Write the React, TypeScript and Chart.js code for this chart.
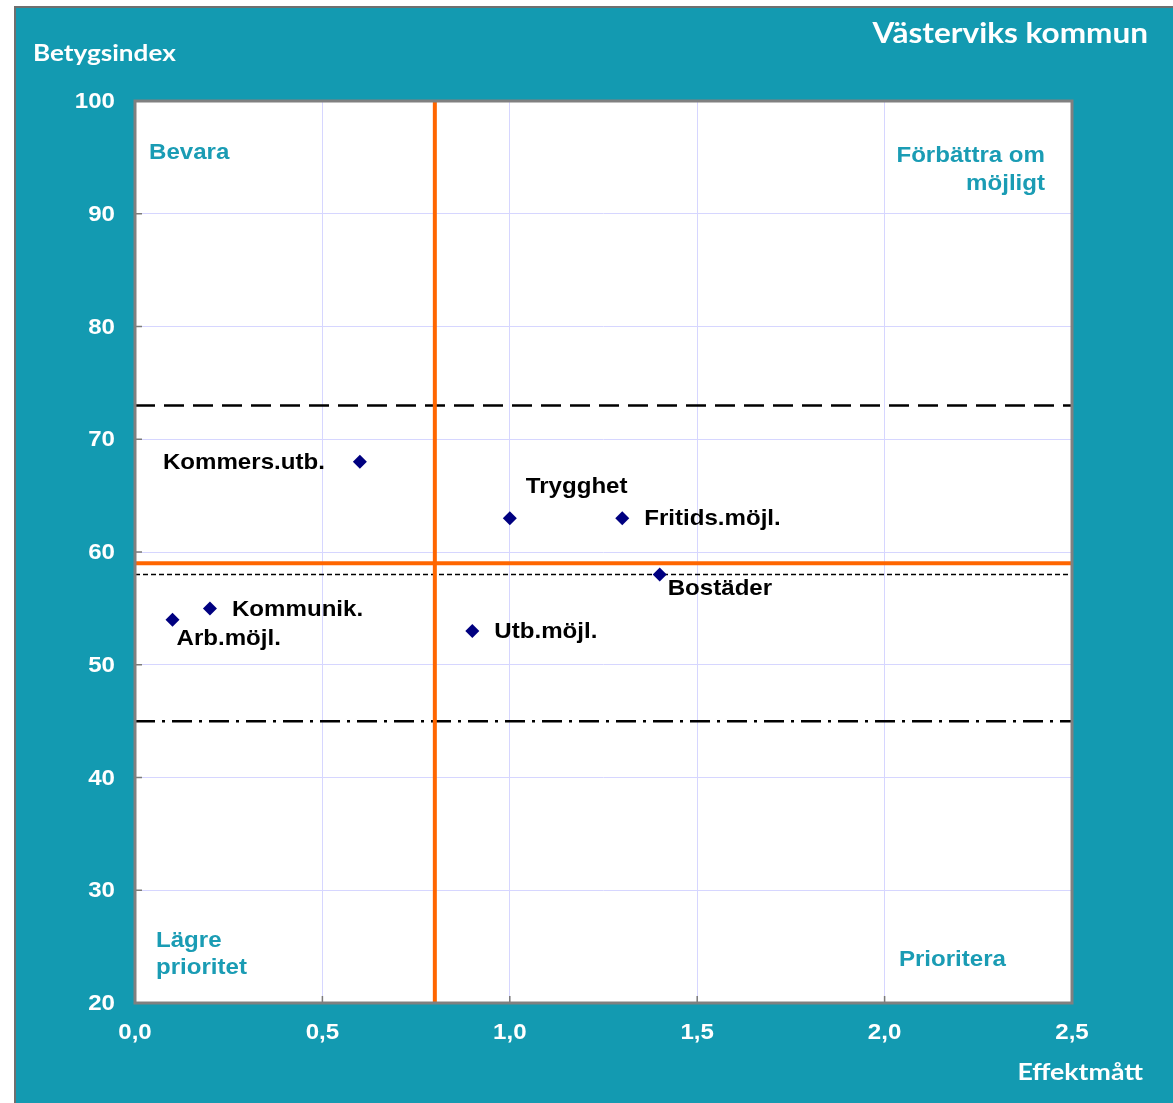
import React, { useEffect, useRef } from "react";
import { Chart, registerables } from "chart.js";

Chart.register(...registerables);

// ---- data ----
const categories = ["Kommers.utb.", "Trygghet", "Fritids.möjl.", "Bostäder", "Kommunik.", "Arb.möjl.", "Utb.möjl."];
const effektmatt = [0.6, 1.0, 1.3, 1.4, 0.2, 0.1, 0.9];
const betygsindex = [68, 63, 63, 58, 55, 54, 53];
const xRange = [0, 2.5];
const xStep = 0.5;
const yRange = [20, 100];
const yStep = 10;
const orangeX = 0.8; // vertical split
const orangeY = 59; // horizontal split
const upperRef = 73;
const midRef = 58;
const lowerRef = 45;
const title = "Västerviks kommun";
const yTitle = "Betygsindex";
const xTitle = "Effektmått";
const quadrantTexts = [["Bevara"], ["Förbättra om", "möjligt"], ["Lägre", "prioritet"], ["Prioritera"]];

// ---- styles ----
const TEAL = "#139AB1";
const QTEAL = "#1A9CB4";
const ORANGE = "#FF6600";
const NAVY = "#000080";
const ARIAL = "'Liberation Sans', Arial, sans-serif";
const CAL = "Lato, 'Open Sans', sans-serif";
const SX = 1.095; // horizontal text stretch of the original picture

// label offsets (pixels) relative to each point
const labelPlacement: Record<string, { dx: number; dy: number; align: CanvasTextAlign }> = {
  "Kommers.utb.": { dx: -35, dy: 1, align: "right" },
  Trygghet: { dx: 16, dy: -31, align: "left" },
  "Fritids.möjl.": { dx: 22, dy: 1, align: "left" },
  Bostäder: { dx: 8, dy: 14, align: "left" },
  "Kommunik.": { dx: 22, dy: 2, align: "left" },
  "Arb.möjl.": { dx: 4, dy: 19, align: "left" },
  "Utb.möjl.": { dx: 22, dy: 1, align: "left" },
};

const hLine = (y: number) => [
  { x: xRange[0], y },
  { x: xRange[1], y },
];
const vLine = (x: number) => [
  { x, y: yRange[0] },
  { x, y: yRange[1] },
];

function txt(ctx: CanvasRenderingContext2D, s: string, x: number, y: number, align: CanvasTextAlign, sx = SX) {
  ctx.save();
  ctx.translate(x, y);
  ctx.scale(sx, 1);
  ctx.textAlign = align;
  ctx.textBaseline = "middle";
  ctx.fillText(s, 0, 0);
  ctx.restore();
}

const decorPlugin = {
  id: "decor",
  beforeDraw(chart: any) {
    const { ctx, chartArea: a } = chart;
    ctx.save();
    ctx.fillStyle = "#ffffff";
    ctx.fillRect(a.left, a.top, a.right - a.left, a.bottom - a.top);
    ctx.restore();
  },
  afterDraw(chart: any) {
    const { ctx, chartArea: a, scales } = chart;
    ctx.save();
    // inside tick marks
    ctx.strokeStyle = "#7a7a7a";
    ctx.lineWidth = 1.5;
    scales.y.ticks.forEach((t: any) => {
      const py = scales.y.getPixelForValue(t.value);
      ctx.beginPath();
      ctx.moveTo(a.left, py);
      ctx.lineTo(a.left + 7, py);
      ctx.stroke();
    });
    scales.x.ticks.forEach((t: any) => {
      const px = scales.x.getPixelForValue(t.value);
      ctx.beginPath();
      ctx.moveTo(px, a.bottom);
      ctx.lineTo(px, a.bottom - 7);
      ctx.stroke();
    });
    // frame
    ctx.strokeStyle = "#808080";
    ctx.lineWidth = 3;
    ctx.strokeRect(a.left, a.top, a.right - a.left, a.bottom - a.top);

    // tick labels
    ctx.fillStyle = "#ffffff";
    ctx.font = `bold 22px ${ARIAL}`;
    scales.y.ticks.forEach((t: any) => {
      txt(ctx, String(t.value), a.left - 20, scales.y.getPixelForValue(t.value) + 1, "right");
    });
    scales.x.ticks.forEach((t: any) => {
      txt(ctx, Number(t.value).toFixed(1).replace(".", ","), scales.x.getPixelForValue(t.value), a.bottom + 30, "center");
    });

    // point labels
    const meta = chart.getDatasetMeta(0);
    ctx.fillStyle = "#000000";
    ctx.font = `bold 22px ${ARIAL}`;
    meta.data.forEach((el: any, i: number) => {
      const name = categories[i];
      const p = labelPlacement[name];
      txt(ctx, name, el.x + p.dx, el.y + p.dy, p.align);
    });

    // quadrant labels
    ctx.fillStyle = QTEAL;
    ctx.font = `bold 22px ${ARIAL}`;
    txt(ctx, quadrantTexts[0][0], a.left + 14, a.top + 52, "left");
    txt(ctx, quadrantTexts[1][0], a.right - 27, a.top + 55, "right");
    txt(ctx, quadrantTexts[1][1], a.right - 27, a.top + 83, "right");
    txt(ctx, quadrantTexts[2][0], a.left + 21, a.bottom - 62, "left");
    txt(ctx, quadrantTexts[2][1], a.left + 21, a.bottom - 35, "left");
    txt(ctx, quadrantTexts[3][0], a.right - 66, a.bottom - 43, "right");

    // titles
    ctx.fillStyle = "#ffffff";
    ctx.font = `bold 29px ${CAL}`;
    txt(ctx, title, 1132, 26, "right", 1.087);
    ctx.font = `bold 23px ${CAL}`;
    txt(ctx, yTitle, 17, 46, "left", 1.135);
    txt(ctx, xTitle, 1127, 1065, "right", 1.16);
    ctx.restore();
  },
};

export default function App() {
  const ref = useRef<HTMLCanvasElement>(null);
  useEffect(() => {
    if (!ref.current) return;
    const chart = new Chart(ref.current, {
      type: "scatter",
      data: {
        datasets: [
          {
            label: "points",
            data: effektmatt.map((x, i) => ({ x, y: betygsindex[i] })),
            pointStyle: "rectRot",
            pointRadius: 7,
            backgroundColor: NAVY,
            borderColor: NAVY,
            borderWidth: 0,
          },
          {
            label: "vsplit",
            data: vLine(orangeX),
            showLine: true,
            borderColor: ORANGE,
            borderWidth: 4,
            pointRadius: 0,
          },
          {
            label: "hsplit",
            data: hLine(orangeY),
            showLine: true,
            borderColor: ORANGE,
            borderWidth: 4,
            pointRadius: 0,
          },
          {
            label: "upper",
            data: hLine(upperRef),
            showLine: true,
            borderColor: "#000000",
            borderWidth: 2.5,
            borderDash: [20, 9],
            pointRadius: 0,
          },
          {
            label: "mid",
            data: hLine(midRef),
            showLine: true,
            borderColor: "#000000",
            borderWidth: 1.5,
            borderDash: [5, 3],
            pointRadius: 0,
          },
          {
            label: "lower",
            data: hLine(lowerRef),
            showLine: true,
            borderColor: "#000000",
            borderWidth: 2.5,
            borderDash: [20, 7, 3, 7],
            pointRadius: 0,
          },
        ],
      },
      options: {
        animation: false,
        responsive: false,
        maintainAspectRatio: false,
        layout: { padding: { left: 0, top: 93, right: 101, bottom: 0 } },
        plugins: { legend: { display: false }, tooltip: { enabled: false } },
        scales: {
          x: {
            type: "linear",
            min: xRange[0],
            max: xRange[1],
            afterFit: (s: any) => {
              s.height = 100;
            },
            ticks: { stepSize: xStep, display: false },
            grid: { color: "#D6D6FF", lineWidth: 1, drawTicks: false },
            border: { display: false },
          },
          y: {
            type: "linear",
            min: yRange[0],
            max: yRange[1],
            afterFit: (s: any) => {
              s.width = 119;
            },
            ticks: { stepSize: yStep, display: false },
            grid: { color: "#D6D6FF", lineWidth: 1, drawTicks: false },
            border: { display: false },
          },
        },
      } as any,
      plugins: [decorPlugin],
    });
    return () => chart.destroy();
  }, []);

  return (
    <div
      style={{
        position: "absolute",
        left: 14,
        top: 6,
        width: 1159,
        height: 1097,
        background: TEAL,
        borderLeft: "2px solid #6f6f6f",
        borderTop: "2px solid #6f6f6f",
        boxSizing: "border-box",
        overflow: "hidden",
      }}
    >
      <canvas ref={ref} width={1157} height={1095} style={{ display: "block", width: 1157, height: 1095 }} />
    </div>
  );
}
